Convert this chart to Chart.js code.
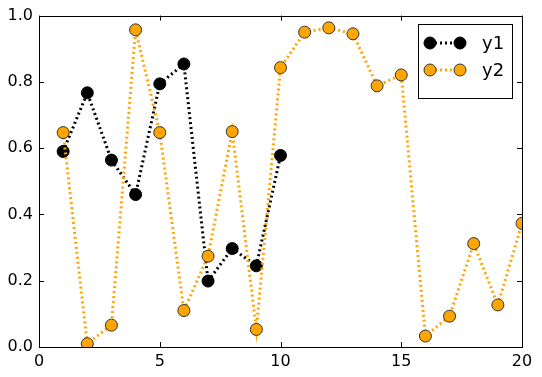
<!DOCTYPE html>
<html>
<head>
<meta charset="utf-8">
<script src="https://cdn.jsdelivr.net/npm/chart.js@4"></script>
<style>
  html, body { margin: 0; padding: 0; background: #fff; }
  #wrap { width: 542px; height: 377px; }
</style>
</head>
<body>
<div id="wrap"><canvas id="chart" width="542" height="377"></canvas></div>
<script>
// data
const x1 = [1, 2, 3, 4, 5, 6, 7, 8, 9, 10];
const y1 = [0.59, 0.767, 0.564, 0.46, 0.794, 0.854, 0.199, 0.297, 0.245, 0.578];
const x2 = [1, 2, 3, 4, 5, 6, 7, 8, 9, 10, 11, 12, 13, 14, 15, 16, 17, 18, 19, 20];
const y2 = [0.647, 0.01, 0.066, 0.957, 0.647, 0.11, 0.274, 0.65, 0.053, 0.843,
            0.95, 0.963, 0.945, 0.788, 0.821, 0.033, 0.093, 0.312, 0.127, 0.373];
const seriesNames = ['y1', 'y2'];
const xTicks = [0, 5, 10, 15, 20];
const yTicks = [0, 0.2, 0.4, 0.6, 0.8, 1.0];

const FONT = '"DejaVu Sans", sans-serif';
const DASH = [2, 3];

function pairs(xs, ys) {
    return xs.map((x, i) => ({x: x, y: ys[i]}));
}

// frame + inward ticks, like the old matplotlib style
const framePlugin = {
    id: 'frame',
    afterDraw(chart) {
        const ctx = chart.ctx;
        const a = chart.chartArea;
        const xs = chart.scales.x, ys = chart.scales.y;
        ctx.save();
        ctx.strokeStyle = '#000';
        ctx.lineWidth = 1;
        ctx.setLineDash([]);
        ctx.beginPath();
        xTicks.forEach(v => {
            const px = Math.round(xs.getPixelForValue(v)) + 0.5;
            ctx.moveTo(px, a.bottom); ctx.lineTo(px, a.bottom - 5);
            ctx.moveTo(px, a.top); ctx.lineTo(px, a.top + 5);
        });
        yTicks.forEach(v => {
            const py = Math.round(ys.getPixelForValue(v)) + 0.5;
            ctx.moveTo(a.left, py); ctx.lineTo(a.left + 5, py);
            ctx.moveTo(a.right, py); ctx.lineTo(a.right - 5, py);
        });
        ctx.stroke();
        ctx.strokeRect(Math.round(a.left) + 0.5, Math.round(a.top) + 0.5,
            Math.round(a.right - a.left), Math.round(a.bottom - a.top));
        ctx.restore();
    }
};

// legend with two markers per entry
const legendPlugin = {
    id: 'mplLegend',
    afterDraw(chart) {
        const ctx = chart.ctx;
        const bx = 418.5, by = 24.5, bw = 94, bh = 74;
        ctx.save();
        ctx.fillStyle = '#fff';
        ctx.fillRect(bx, by, bw, bh);
        ctx.strokeStyle = '#000';
        ctx.lineWidth = 1;
        ctx.strokeRect(bx, by, bw, bh);
        chart.data.datasets.forEach((ds, i) => {
            const cy = 43 + i * 27;
            const xa = 430, xb = 460;
            ctx.strokeStyle = ds.borderColor;
            ctx.lineWidth = 3;
            ctx.setLineDash(DASH);
            ctx.beginPath();
            ctx.moveTo(xa, cy); ctx.lineTo(xb, cy);
            ctx.stroke();
            ctx.setLineDash([]);
            [xa, xb].forEach(cx => {
                ctx.beginPath();
                ctx.arc(cx, cy, 6, 0, Math.PI * 2);
                ctx.fillStyle = ds.pointBackgroundColor;
                ctx.fill();
                ctx.lineWidth = 1;
                ctx.strokeStyle = ds.pointBorderColor;
                ctx.stroke();
            });
            ctx.fillStyle = '#000';
            ctx.font = '18px ' + FONT;
            ctx.textBaseline = 'middle';
            ctx.textAlign = 'left';
            ctx.fillText(ds.label, 482, cy + 1);
        });
        ctx.restore();
    }
};

const config = {
    type: 'line',
    data: {
        datasets: [
            {
                label: seriesNames[0],
                data: pairs(x1, y1),
                borderColor: '#000000',
                borderWidth: 3,
                borderDash: DASH,
                pointRadius: 6,
                pointBackgroundColor: '#000000',
                pointBorderColor: '#000000',
                pointBorderWidth: 1,
                tension: 0,
                order: 1
            },
            {
                label: seriesNames[1],
                data: pairs(x2, y2),
                borderColor: '#FFA500',
                borderWidth: 3,
                borderDash: DASH,
                pointRadius: 6,
                pointBackgroundColor: '#FFA500',
                pointBorderColor: '#333333',
                pointBorderWidth: 1,
                tension: 0,
                order: 0
            }
        ]
    },
    options: {
        responsive: false,
        animation: false,
        events: [],
        layout: {padding: {top: 15, right: 20, left: 0, bottom: 0}},
        plugins: {
            legend: {display: false},
            tooltip: {enabled: false}
        },
        scales: {
            x: {
                type: 'linear',
                min: 0,
                max: 20,
                afterBuildTicks: s => { s.ticks = xTicks.map(v => ({value: v})); },
                afterFit: s => { s.height = 30; },
                grid: {display: false, drawTicks: false},
                border: {display: false},
                ticks: {
                    padding: 5,
                    color: '#000',
                    font: {family: FONT, size: 16},
                    callback: v => String(v)
                }
            },
            y: {
                min: 0,
                max: 1,
                afterBuildTicks: s => { s.ticks = yTicks.map(v => ({value: v})); },
                afterFit: s => { s.width = 39; },
                grid: {display: false, drawTicks: false},
                border: {display: false},
                ticks: {
                    padding: 6,
                    color: '#000',
                    font: {family: FONT, size: 16},
                    callback: v => Number(v).toFixed(1)
                }
            }
        }
    },
    plugins: [framePlugin, legendPlugin]
};

const myChart = new Chart(document.getElementById('chart'), config);
</script>
</body>
</html>
